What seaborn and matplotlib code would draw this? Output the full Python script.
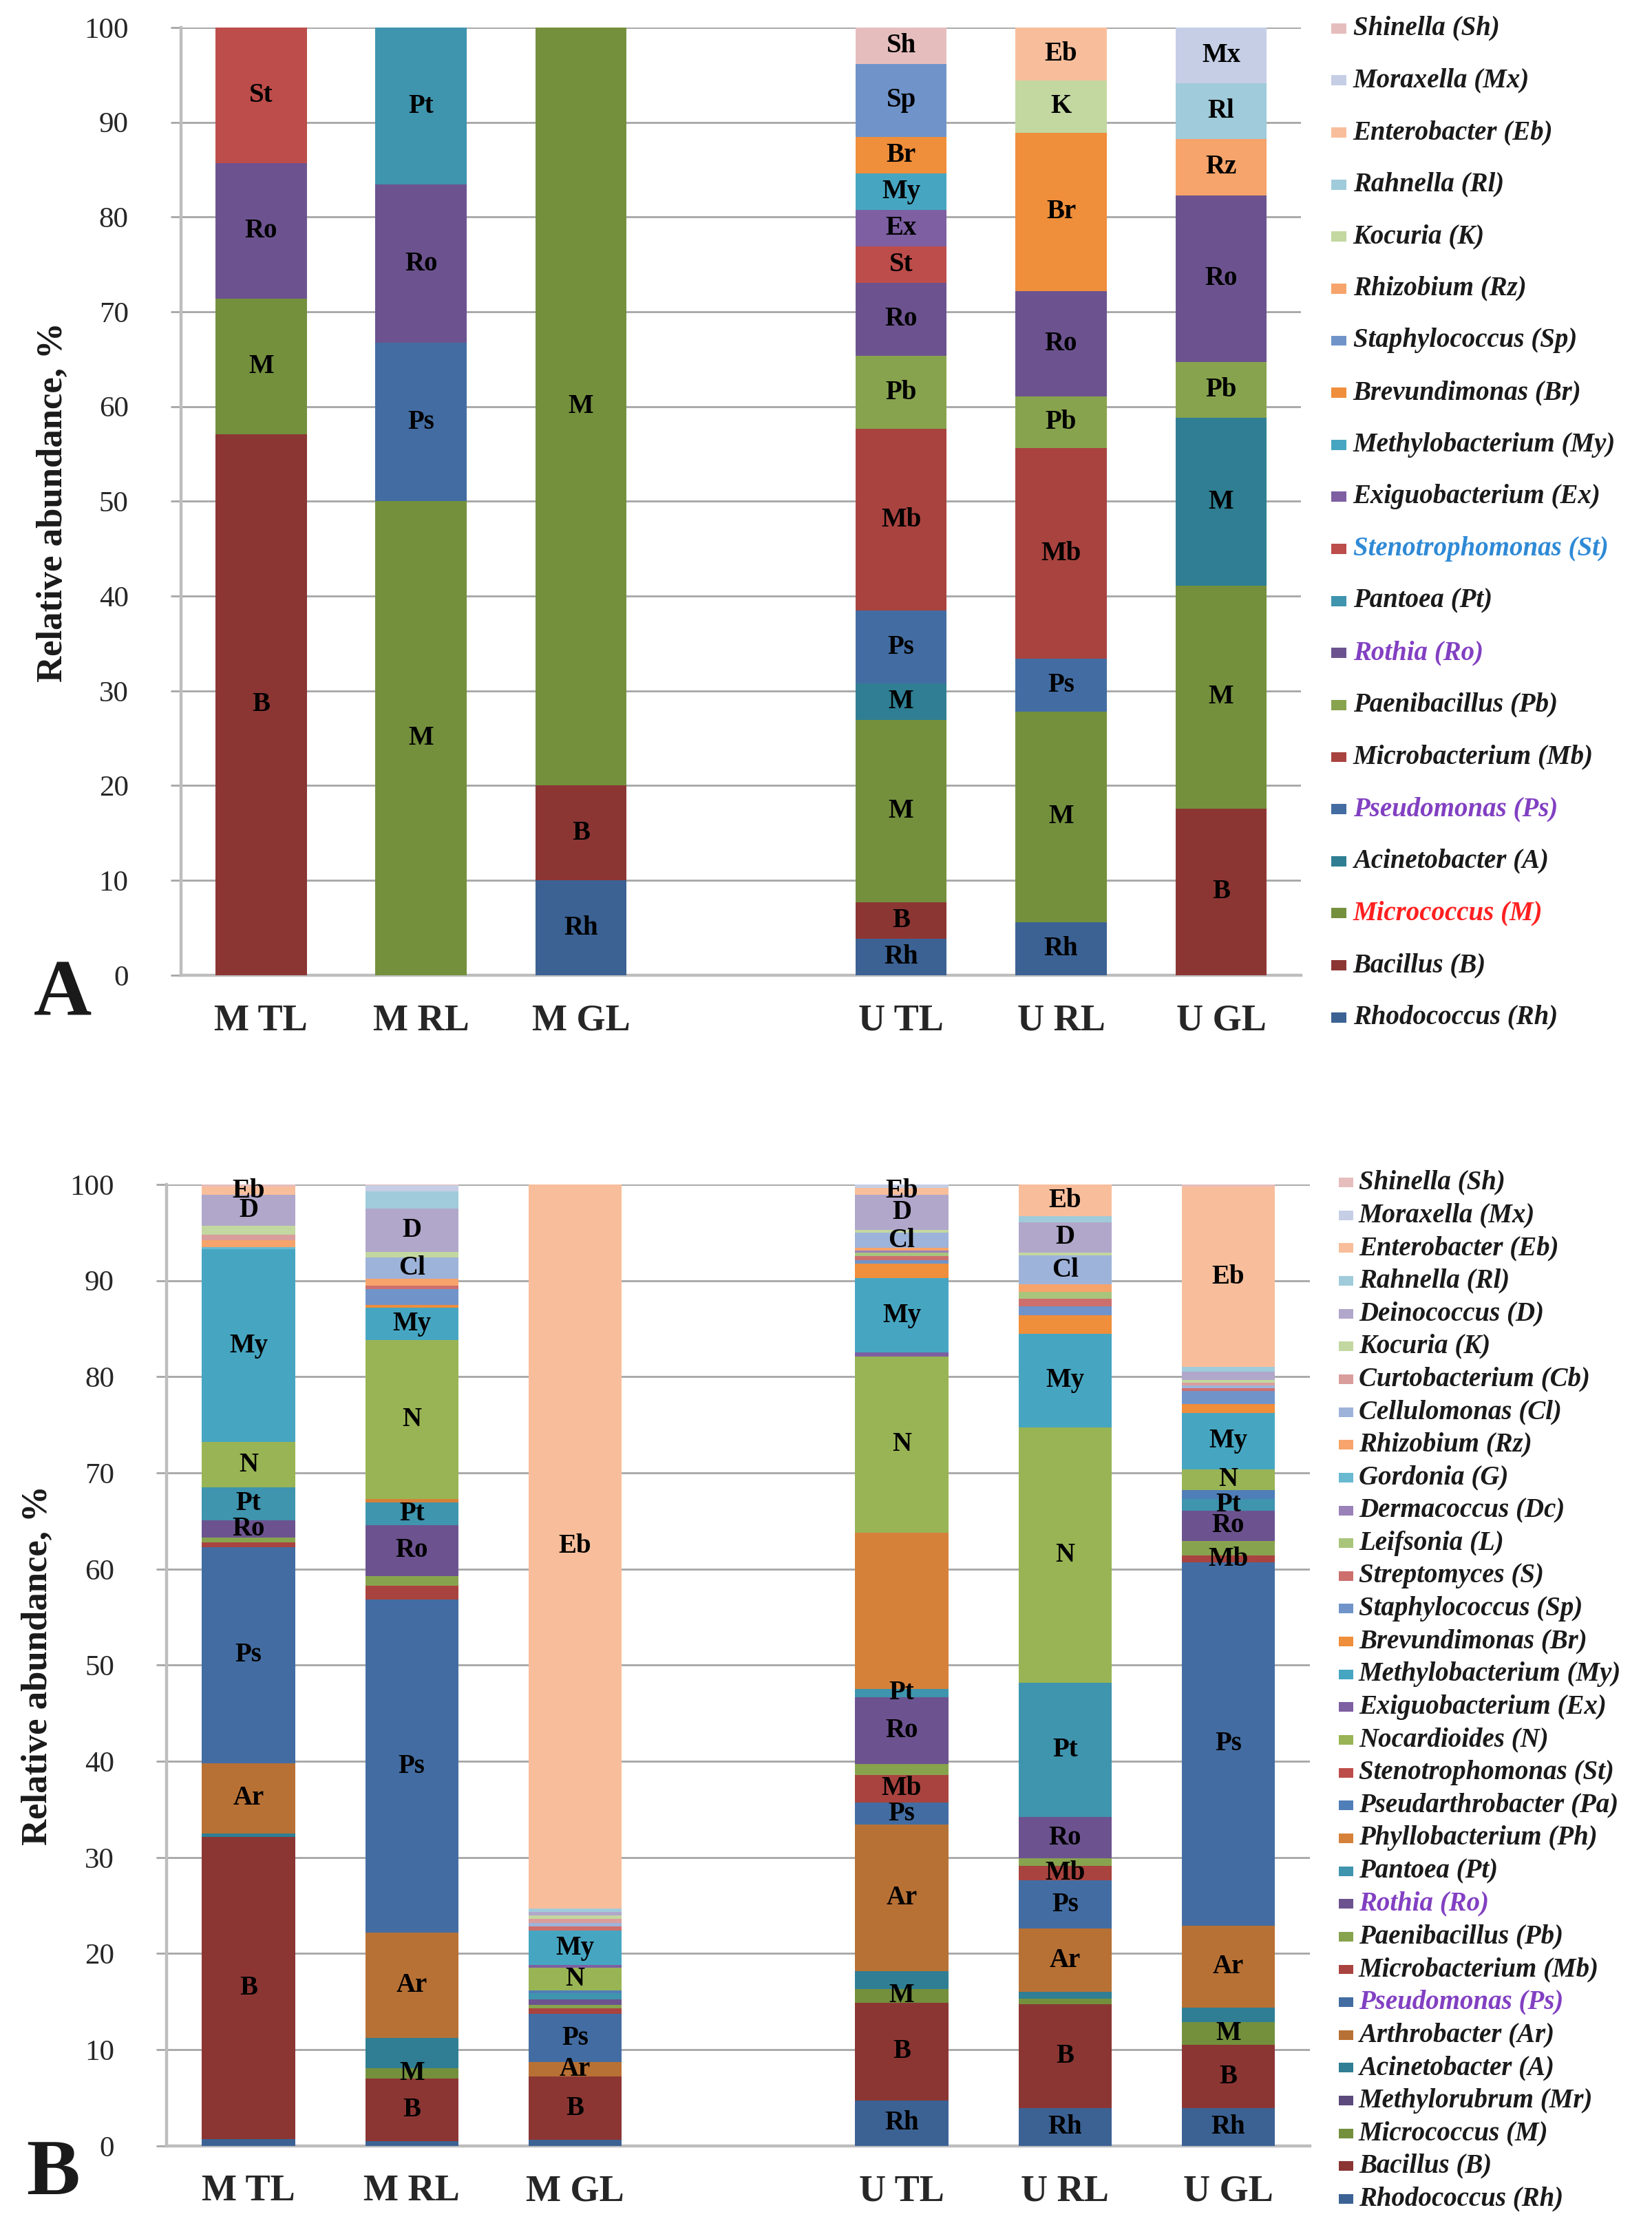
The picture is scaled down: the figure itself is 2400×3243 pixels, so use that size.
import numpy as np
import pandas as pd
import matplotlib
matplotlib.use("Agg")
import matplotlib.pyplot as plt
from matplotlib.patches import Rectangle
import seaborn as sns

# ── Data ────────────────────────────────────────────────────────────────────
SAMPLES = ["M TL", "M RL", "M GL", "U TL", "U RL", "U GL"]
SLOTS = ["M TL", "M RL", "M GL", " ", "U TL", "U RL", "U GL"]  # blank slot = gap

# stacking order, bottom -> top (legend is the reverse)
STACK_A = ["Rh", "B", "M", "A", "Ps", "Mb", "Pb", "Ro", "Pt", "St", "Ex", "My",
           "Br", "Sp", "Rz", "K", "Rl", "Eb", "Mx", "Sh"]
STACK_B = ["Rh", "B", "M", "Mr", "A", "Ar", "Ps", "Mb", "Pb", "Ro", "Pt", "Ph",
           "Pa", "St", "N", "Ex", "My", "Br", "Sp", "S", "L", "Dc", "G", "Rz",
           "Cl", "Cb", "K", "D", "Rl", "Eb", "Mx", "Sh"]

# panel A, relative abundance %
A_M_TL = {"B": 57.1, "M": 14.3, "Ro": 14.3, "St": 14.3}
A_M_RL = {"M": 50.0, "Ps": 16.7, "Ro": 16.7, "Pt": 16.6}
A_M_GL = {"Rh": 10.0, "B": 10.0, "M": 80.0}
A_U_TL = {"Rh": 3.85, "B": 3.85, "M": 19.2, "A": 3.85, "Ps": 7.7, "Mb": 19.2,
          "Pb": 7.7, "Ro": 7.7, "St": 3.85, "Ex": 3.85, "My": 3.85, "Br": 3.85,
          "Sp": 7.7, "Sh": 3.85}
A_U_RL = {"Rh": 5.6, "M": 22.2, "Ps": 5.6, "Mb": 22.2, "Pb": 5.5, "Ro": 11.1,
          "Br": 16.7, "K": 5.5, "Eb": 5.6}
A_U_GL = {"B": 17.6, "M": 23.5, "A": 17.7, "Pb": 5.9, "Ro": 17.6, "Rz": 5.9,
          "Rl": 5.9, "Mx": 5.9}

# panel B, relative abundance %
B_M_TL = {"Rh": 0.7, "B": 31.4, "A": 0.4, "Ar": 7.3, "Ps": 22.5, "Mb": 0.5,
          "Pb": 0.5, "Ro": 1.8, "Pt": 3.4, "N": 4.7, "My": 20.1, "G": 0.2,
          "Rz": 0.7, "Cb": 0.6, "K": 0.9, "D": 3.2, "Eb": 0.9, "Sh": 0.2}
B_M_RL = {"Rh": 0.5, "B": 6.5, "M": 1.1, "A": 3.1, "Ar": 11.0, "Ps": 34.6,
          "Mb": 1.5, "Pb": 1.0, "Ro": 5.3, "Pt": 2.3, "Ph": 0.4, "N": 16.5,
          "My": 3.4, "Br": 0.3, "Sp": 1.6, "S": 0.4, "Rz": 0.7, "Cl": 2.2,
          "K": 0.6, "D": 4.5, "Rl": 1.8, "Mx": 0.6, "Sh": 0.1}
B_M_GL = {"Rh": 0.6, "B": 6.6, "Ar": 1.5, "Ps": 5.0, "Mb": 0.6, "Pb": 0.35,
          "Ro": 0.6, "Pt": 0.6, "Pa": 0.35, "N": 2.3, "Ex": 0.3, "My": 3.6,
          "S": 0.4, "Cl": 0.4, "Cb": 0.4, "K": 0.35, "D": 0.35, "Rl": 0.4,
          "Eb": 75.3}
B_U_TL = {"Rh": 4.7, "B": 10.2, "M": 1.4, "A": 1.9, "Ar": 15.2, "Ps": 2.3,
          "Mb": 2.9, "Pb": 1.1, "Ro": 7.0, "Pt": 0.8, "Ph": 16.3, "N": 18.3,
          "Ex": 0.4, "My": 7.8, "Br": 1.5, "Sp": 0.35, "S": 0.4, "L": 0.4,
          "Dc": 0.15, "Rz": 0.3, "Cl": 1.6, "K": 0.25, "D": 3.7, "Eb": 0.7,
          "Mx": 0.35}
B_U_RL = {"Rh": 3.9, "B": 10.8, "M": 0.6, "A": 0.7, "Ar": 6.6, "Ps": 5.0,
          "Mb": 1.5, "Pb": 0.8, "Ro": 4.3, "Pt": 14.0, "N": 26.5, "My": 9.8,
          "Br": 1.9, "Sp": 0.9, "S": 0.8, "L": 0.7, "Rz": 0.8, "Cl": 3.0,
          "K": 0.3, "D": 3.2, "Rl": 0.6, "Eb": 3.3}
B_U_GL = {"Rh": 3.9, "B": 6.6, "M": 2.4, "A": 1.5, "Ar": 8.5, "Ps": 37.8,
          "Mb": 0.7, "Pb": 1.5, "Ro": 3.2, "Pt": 1.2, "Pa": 0.9, "N": 2.2,
          "My": 5.8, "Br": 1.0, "Sp": 1.3, "S": 0.3, "Cl": 0.3, "Cb": 0.3,
          "K": 0.3, "D": 0.8, "Rl": 0.5, "Eb": 18.8, "Sh": 0.2}

# segments carrying a data label
LBL_A = [["B", "M", "Ro", "St"],
         ["M", "Ps", "Ro", "Pt"],
         ["Rh", "B", "M"],
         ["Rh", "B", "M", "A", "Ps", "Mb", "Pb", "Ro", "St", "Ex", "My", "Br", "Sp", "Sh"],
         ["Rh", "M", "Ps", "Mb", "Pb", "Ro", "Br", "K", "Eb"],
         ["B", "M", "A", "Pb", "Ro", "Rz", "Rl", "Mx"]]
LBL_B = [["B", "Ar", "Ps", "Ro", "Pt", "N", "My", "D", "Eb"],
         ["B", "M", "Ar", "Ps", "Ro", "Pt", "N", "My", "Cl", "D"],
         ["B", "Ar", "Ps", "N", "My", "Eb"],
         ["Rh", "B", "M", "Ar", "Ps", "Mb", "Ro", "Pt", "N", "My", "Cl", "D", "Eb"],
         ["Rh", "B", "Ar", "Ps", "Mb", "Ro", "Pt", "N", "My", "Cl", "D", "Eb"],
         ["Rh", "B", "M", "Ar", "Ps", "Mb", "Ro", "Pt", "N", "My", "Eb"]]
LABEL_ALIAS = {"A": "M"}  # Acinetobacter segments are tagged "M" in panel A

NAMES = {
    "Sh": "Shinella", "Mx": "Moraxella", "Eb": "Enterobacter", "Rl": "Rahnella",
    "D": "Deinococcus", "K": "Kocuria", "Cb": "Curtobacterium",
    "Cl": "Cellulomonas", "Rz": "Rhizobium", "G": "Gordonia",
    "Dc": "Dermacoccus", "L": "Leifsonia", "S": "Streptomyces",
    "Sp": "Staphylococcus", "Br": "Brevundimonas", "My": "Methylobacterium",
    "Ex": "Exiguobacterium", "N": "Nocardioides", "St": "Stenotrophomonas",
    "Pa": "Pseudarthrobacter", "Ph": "Phyllobacterium", "Pt": "Pantoea",
    "Ro": "Rothia", "Pb": "Paenibacillus", "Mb": "Microbacterium",
    "Ps": "Pseudomonas", "Ar": "Arthrobacter", "A": "Acinetobacter",
    "Mr": "Methylorubrum", "M": "Micrococcus", "B": "Bacillus",
    "Rh": "Rhodococcus",
}

COLORS = {
    "Rh": "#3C6294", "B": "#8C3634", "M": "#74903D", "Mr": "#5B4A7B",
    "A": "#2F7E93", "Ar": "#B87135", "Ps": "#436DA2", "Mb": "#A9433F",
    "Pb": "#88A34E", "Ro": "#6C538F", "Pt": "#3F94AE", "Ph": "#D6813A",
    "Pa": "#4F7EB8", "St": "#BC4D4A", "N": "#99B454", "Ex": "#7D5FA2",
    "My": "#46A6C2", "Br": "#EF8E3B", "Sp": "#7094CA", "S": "#CD6F6D",
    "L": "#A9C57C", "Dc": "#9A81B7", "G": "#69B9D0", "Rz": "#F6A46B",
    "Cl": "#9EB3D9", "Cb": "#D99D9C", "K": "#C3D7A0", "D": "#B1A7CA",
    "Rl": "#A0CBDA", "Eb": "#F8BE9B", "Mx": "#C5CEE5", "Sh": "#E6BDBD",
}

TEXT_DARK = "#1A1A1A"
LEGEND_TEXT_A = {"St": "#2F8AD6", "Ro": "#8240C2", "Ps": "#8240C2", "M": "#FF2020"}
LEGEND_TEXT_B = {"Ro": "#8240C2", "Ps": "#8240C2"}

GRID = "#A6A6A6"
SERIF = ["Liberation Serif", "DejaVu Serif"]

# ── Styling ────────────────────────────────────────────────────────────────
sns.set_theme(style="white")
plt.rcParams.update({
    "font.family": SERIF,
    "figure.facecolor": "white",
    "axes.facecolor": "white",
    "text.color": TEXT_DARK,
})


def draw_panel(ax, stack, data, labels, alias):
    frame = pd.DataFrame(data, index=SAMPLES).reindex(columns=stack).fillna(0.0)
    cum = frame.cumsum(axis=1)

    # cumulative bars, top layer first, each lower layer painted over it
    for genus in reversed(stack):
        keep = frame[genus] > 0
        if not keep.any():
            continue
        sns.barplot(x=list(frame.index[keep]), y=cum.loc[keep, genus].values,
                    order=SLOTS, color=COLORS[genus], saturation=1, width=0.57,
                    errorbar=None, linewidth=0, ax=ax, zorder=3)

    for sample, lab_list in zip(SAMPLES, labels):
        xpos = SLOTS.index(sample)
        for genus in lab_list:
            v = frame.loc[sample, genus]
            ymid = cum.loc[sample, genus] - v / 2
            ax.text(xpos, ymid, alias.get(genus, genus), ha="center", va="center",
                    fontsize=14, fontweight="bold", color="black", zorder=5)

    ax.set_xlim(-0.5, len(SLOTS) - 0.5)
    ax.set_ylim(0, 100)
    ax.set_yticks(np.arange(0, 101, 10))
    ax.set_xticks(range(len(SLOTS)))
    ax.set_xticklabels(SLOTS, fontsize=19.5, fontweight="bold")
    ax.set_xlabel("")
    ax.set_ylabel("")
    ax.yaxis.grid(True, color=GRID, linewidth=1.0)
    ax.xaxis.grid(False)
    ax.set_axisbelow(True)
    for side in ("top", "right"):
        ax.spines[side].set_visible(False)
    for side in ("left", "bottom"):
        ax.spines[side].set_color("#BDBDBD")
        ax.spines[side].set_linewidth(1.6)
    ax.tick_params(axis="y", which="major", length=5.5, width=1.0, color=GRID,
                   labelsize=15.5, pad=22, left=True)
    ax.tick_params(axis="x", length=0, pad=15)


def draw_legend(fig, stack, y_top, y_bot, x_box, x_text, box_w, box_h, text_colors):
    entries = list(reversed(stack))
    ys = np.linspace(y_top, y_bot, len(entries))
    for code, y in zip(entries, ys):
        fig.add_artist(Rectangle((x_box, y - box_h / 2), box_w, box_h,
                                 transform=fig.transFigure, facecolor=COLORS[code],
                                 edgecolor="none"))
        fig.text(x_text, y, f"{NAMES[code]} ({code})", ha="left", va="center",
                 fontsize=14, fontstyle="italic", fontweight="bold",
                 color=text_colors.get(code, TEXT_DARK))


fig = plt.figure(figsize=(12, 16.215), dpi=200)

ax_a = fig.add_axes([0.1096, 0.5631, 0.678, 0.4246])
draw_panel(ax_a, STACK_A, [A_M_TL, A_M_RL, A_M_GL, A_U_TL, A_U_RL, A_U_GL],
           LBL_A, LABEL_ALIAS)

ax_b = fig.add_axes([0.101, 0.0386, 0.692, 0.4307])
draw_panel(ax_b, STACK_B, [B_M_TL, B_M_RL, B_M_GL, B_U_TL, B_U_RL, B_U_GL],
           LBL_B, {})

draw_legend(fig, STACK_A, 0.9873, 0.5442, 0.806, 0.819, 0.0092, 0.0046, LEGEND_TEXT_A)
draw_legend(fig, STACK_B, 0.4702, 0.0148, 0.8104, 0.8225, 0.0088, 0.0043, LEGEND_TEXT_B)

fig.text(0.032, 0.775, "Relative abundance, %", rotation=90, ha="center",
         va="center", fontsize=19, fontweight="bold")
fig.text(0.023, 0.254, "Relative abundance, %", rotation=90, ha="center",
         va="center", fontsize=19, fontweight="bold")
fig.text(0.038, 0.554, "A", ha="center", va="center", fontsize=42, fontweight="bold")
fig.text(0.032, 0.0256, "B", ha="center", va="center", fontsize=42, fontweight="bold")

fig.savefig("out.png", dpi=200, facecolor="white")
plt.close(fig)
